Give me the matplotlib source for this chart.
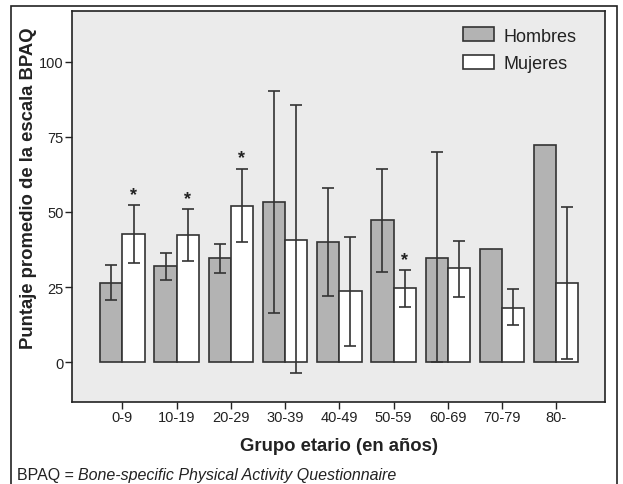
import numpy as np
import matplotlib
matplotlib.use("Agg")
import matplotlib.pyplot as plt
from matplotlib.patches import Rectangle

groups = ["0-9", "10-19", "20-29", "30-39", "40-49", "50-59", "60-69", "70-79", "80-"]

# mean BPAQ score and 95% CI limits per age group
hombres = [26.3, 32.1, 34.7, 53.2, 40.1, 47.2, 34.7, 37.7, 72.1]
hombres_lo = [20.6, 27.4, 29.6, 16.3, 21.9, 30.1, 0.0, np.nan, np.nan]
hombres_hi = [32.3, 36.2, 39.3, 90.3, 57.9, 64.4, 69.9, np.nan, np.nan]

mujeres = [42.5, 42.3, 51.9, 40.7, 23.6, 24.7, 31.5, 18.2, 26.3]
mujeres_lo = [33.1, 33.7, 40.1, -3.7, 5.3, 18.4, 21.8, 12.3, 1.1]
mujeres_hi = [52.4, 51.0, 64.4, 85.6, 41.6, 30.7, 40.2, 24.5, 51.5]

# groups with significant difference (marked with *)
signif = [True, True, True, False, False, True, False, False, False]

yticks = [0, 25, 50, 75, 100]

plt.rcParams["font.family"] = ["Liberation Sans", "DejaVu Sans"]

fig = plt.figure(figsize=(6.23, 4.85), dpi=100)
ax = fig.add_axes([72 / 623, 1 - 403 / 485, 533 / 623, 391 / 485])
ax.set_facecolor("#ebebeb")

x = np.arange(len(groups))
w = 0.41
edge = "#333333"

ax.bar(x - w / 2, hombres, w, color="#b3b3b3", edgecolor=edge, linewidth=1.2,
       label="Hombres", zorder=2)
ax.bar(x + w / 2, mujeres, w, color="white", edgecolor=edge, linewidth=1.2,
       label="Mujeres", zorder=2)

h = np.array(hombres)
m = np.array(mujeres)
h_err = [h - np.array(hombres_lo), np.array(hombres_hi) - h]
m_err = [m - np.array(mujeres_lo), np.array(mujeres_hi) - m]
ax.errorbar(x - w / 2, h, yerr=h_err, fmt="none", ecolor=edge, elinewidth=1.2,
            capsize=4, capthick=1.2, zorder=3)
ax.errorbar(x + w / 2, m, yerr=m_err, fmt="none", ecolor=edge, elinewidth=1.2,
            capsize=4, capthick=1.2, zorder=3)

for i, s in enumerate(signif):
    if s:
        ax.annotate("*", (x[i] + w / 2, mujeres_hi[i]), xytext=(0, 1.5),
                    textcoords="offset points", ha="center", va="bottom",
                    fontsize=13, fontweight="bold", color="#222222")

ax.set_xlim(-0.93, 8.9)
ax.set_ylim(-13.2, 116.8)
ax.set_xticks(x)
ax.set_xticklabels(groups, fontsize=10.5)
ax.set_yticks(yticks)
ax.set_yticklabels([str(t) for t in yticks], fontsize=10.5)
ax.tick_params(length=5, width=1, color="#222222", pad=1, labelcolor="#222222")
for sp in ax.spines.values():
    sp.set_linewidth(1.2)
    sp.set_color("#222222")

ax.set_ylabel("Puntaje promedio de la escala BPAQ", fontsize=13.3,
              fontweight="bold", color="#222222")
ax.yaxis.set_label_coords(-0.066, 0.55)
ax.set_xlabel("Grupo etario (en años)", fontsize=13.3, fontweight="bold",
              color="#222222")
ax.xaxis.set_label_coords(0.5, -0.09)

leg = ax.legend(loc="upper left", bbox_to_anchor=(0.733, 0.958), frameon=False,
                fontsize=13, handlelength=1.75, handleheight=0.8,
                handletextpad=0.5, labelspacing=0.58, borderpad=0,
                borderaxespad=0)
for t in leg.get_texts():
    t.set_color("#222222")

# outer frame around the figure
fig.patches.append(Rectangle((11 / 623, -0.05), 606 / 623, 1.05 - 7 / 485,
                             transform=fig.transFigure, fill=False,
                             edgecolor="#222222", linewidth=1.2))

t1 = fig.text(17 / 623, 1 - 476 / 485, "BPAQ = ", fontsize=11.5,
              va="center", color="#222222")
ax.annotate("Bone-specific Physical Activity Questionnaire", xy=(1, 0.5),
            xycoords=t1, va="center", ha="left", fontsize=11.5,
            style="italic", color="#222222", annotation_clip=False)

fig.savefig("out.png", dpi=100)
